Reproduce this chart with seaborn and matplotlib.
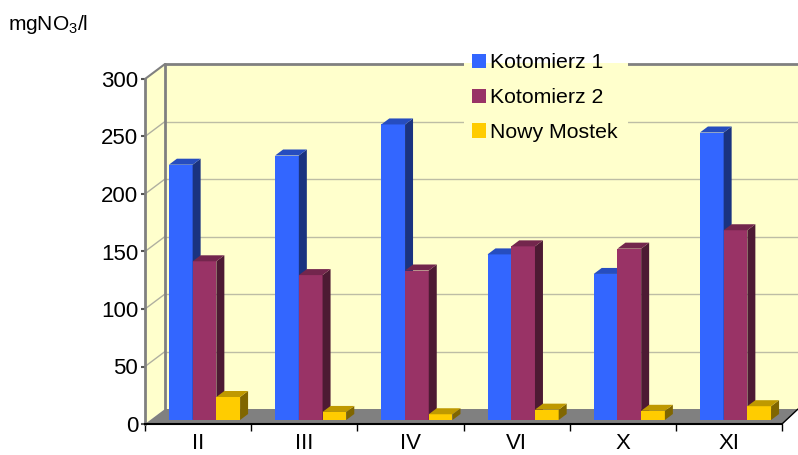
import matplotlib
matplotlib.use('Agg')
import matplotlib.pyplot as plt
from matplotlib.patches import Polygon, Rectangle
from matplotlib.colors import to_rgb
import pandas as pd
import seaborn as sns

MONTHS = ['II', 'III', 'IV', 'VI', 'X', 'XI']
KOTOMIERZ_1 = [222, 230, 257, 144, 127, 250]
KOTOMIERZ_2 = [138, 126, 130, 151, 149, 165]
NOWY_MOSTEK = [20, 7, 5, 9, 8, 12]
SERIES_NAMES = ['Kotomierz 1', 'Kotomierz 2', 'Nowy Mostek']
COLORS = ['#3366FF', '#993366', '#FFCC00']
Y_TICKS = [0, 50, 100, 150, 200, 250, 300]

W, H = 798, 455
WALL = '#FFFFCC'
GREY = '#808080'
DEPTH_X, DEPTH_Y = 20, 15    # chart depth, pixels
BAR_DX, BAR_DY = 8, 6        # bar depth, pixels
PX_PER_UNIT = 345 / 300
CAT_W = 106.2

sns.set_theme(style='white')
plt.rcParams['font.family'] = ['Liberation Sans', 'DejaVu Sans']
plt.rcParams['mathtext.default'] = 'regular'
plt.rcParams['text.color'] = 'black'
plt.rcParams['xtick.labelcolor'] = 'black'
plt.rcParams['ytick.labelcolor'] = 'black'

df = pd.DataFrame({
    'month': MONTHS * 3,
    'series': [s for s in SERIES_NAMES for _ in MONTHS],
    'value': KOTOMIERZ_1 + KOTOMIERZ_2 + NOWY_MOSTEK,
})


def px_axes(fig, left, top, right, bottom, **kwargs):
    return fig.add_axes([left / W, 1 - bottom / H, (right - left) / W, (bottom - top) / H], **kwargs)


fig = plt.figure(figsize=(W / 100, H / 100), dpi=100, facecolor='white')

# walls and floor, in pixel coordinates
bg = fig.add_axes([0, 0, 1, 1], zorder=0)
bg.set_xlim(0, W)
bg.set_ylim(H, 0)
bg.axis('off')

x0, x1 = 145, 782
y0, y3 = 424, 79
xb, yb = x0 + DEPTH_X, y0 - DEPTH_Y
bg.add_patch(Rectangle((xb, y3 - DEPTH_Y), W - xb, y0 - y3, fc=WALL, ec='none'))
bg.add_patch(Polygon([(x0, y0), (x0, y3), (xb, y3 - DEPTH_Y), (xb, yb)], fc=WALL, ec='none'))
bg.add_patch(Polygon([(x0, y0), (xb, yb), (W, yb), (x1, y0)], fc=GREY, ec='none'))
for v in Y_TICKS[1:-1]:
    y = y0 - v * PX_PER_UNIT
    bg.plot([x0, xb], [y, y - DEPTH_Y], color='#B0B0A0', lw=1)
    bg.plot([xb, W], [y - DEPTH_Y, y - DEPTH_Y], color='#BDBDA5', lw=1)
bg.plot([x0, xb], [y3, y3 - DEPTH_Y], color=GREY, lw=1.5)
bg.plot([xb, W], [y3 - DEPTH_Y, y3 - DEPTH_Y], color=GREY, lw=2)
bg.plot([xb, xb], [y3 - DEPTH_Y, yb], color=GREY, lw=2)
bg.plot([x1, W], [y0, yb], color='black', lw=1)
# the legend box hides the wall lines behind it
bg.add_patch(Rectangle((464, 62), 164, 90, fc=WALL, ec='none', zorder=5))
bg.add_patch(Rectangle((464, 50), 164, 13.2, fc='white', ec='none', zorder=5))

# front axis with the ticks
front = px_axes(fig, x0, y3, x1, y0, zorder=1)
front.patch.set_alpha(0)
front.set_xlim(0, len(MONTHS))
front.set_ylim(0, 300)
front.set_yticks(Y_TICKS)
front.set_xticks(range(len(MONTHS) + 1))
front.set_xticks([i + 0.5 for i in range(len(MONTHS))], MONTHS, minor=True)
front.tick_params(axis='y', labelsize=16, length=3, width=1.5, color='#555555', pad=2, left=True)
front.tick_params(axis='x', which='major', labelbottom=False, length=5, width=1, color='black', bottom=True)
front.tick_params(axis='x', which='minor', labelsize=16, length=0, pad=6.5)
sns.despine(ax=front, top=True, right=True)
front.spines['left'].set_color(GREY)
front.spines['left'].set_linewidth(2)
front.spines['bottom'].set_color('black')
front.spines['bottom'].set_linewidth(1.5)

# bars sit in the middle of the floor depth
ax = px_axes(fig, 204.5 - CAT_W / 2, 420 - 300 * PX_PER_UNIT, 204.5 + 5.5 * CAT_W, 420, zorder=2)
ax.patch.set_alpha(0)
sns.barplot(data=df, x='month', y='value', hue='series', hue_order=SERIES_NAMES, order=MONTHS,
            palette=COLORS, width=0.67, gap=0, saturation=1, ax=ax, legend=False, linewidth=0)
ax.set_xlim(-0.5, 5.5)
ax.set_ylim(0, 300)
ax.axis('off')

dx = BAR_DX / CAT_W
dy = BAR_DY / PX_PER_UNIT
for i, container in enumerate(ax.containers):
    rgb = to_rgb(COLORS[i])
    side = tuple(c * 0.5 for c in rgb)
    top = tuple(c * 0.75 for c in rgb)
    for bar in container:
        bx, bw, bh = bar.get_x(), bar.get_width(), bar.get_height()
        z = 3 + i
        bar.set_zorder(z)
        ax.add_patch(Polygon([(bx + bw, 0), (bx + bw + dx, dy), (bx + bw + dx, bh + dy), (bx + bw, bh)],
                             fc=side, ec='none', zorder=z, clip_on=False))
        ax.add_patch(Polygon([(bx, bh), (bx + dx, bh + dy), (bx + bw + dx, bh + dy), (bx + bw, bh)],
                             fc=top, ec='none', zorder=z, clip_on=False))

# legend, drawn on top of the wall
handles = [Rectangle((0, 0), 1, 1, fc=c, ec='none') for c in COLORS]
fig.legend(handles, SERIES_NAMES, loc='upper left', bbox_to_anchor=(463 / W, 1 - 45 / H),
           frameon=False, fontsize=15.3, handlelength=0.66, handleheight=0.66, handletextpad=0.22,
           labelspacing=0.74, borderaxespad=0, borderpad=0.4, labelcolor='black')

fig.text(8 / W, 1 - 25 / H, 'mgNO$_3$/l', fontsize=15, color='black', va='center', ha='left')

fig.savefig('out.png', dpi=100)
